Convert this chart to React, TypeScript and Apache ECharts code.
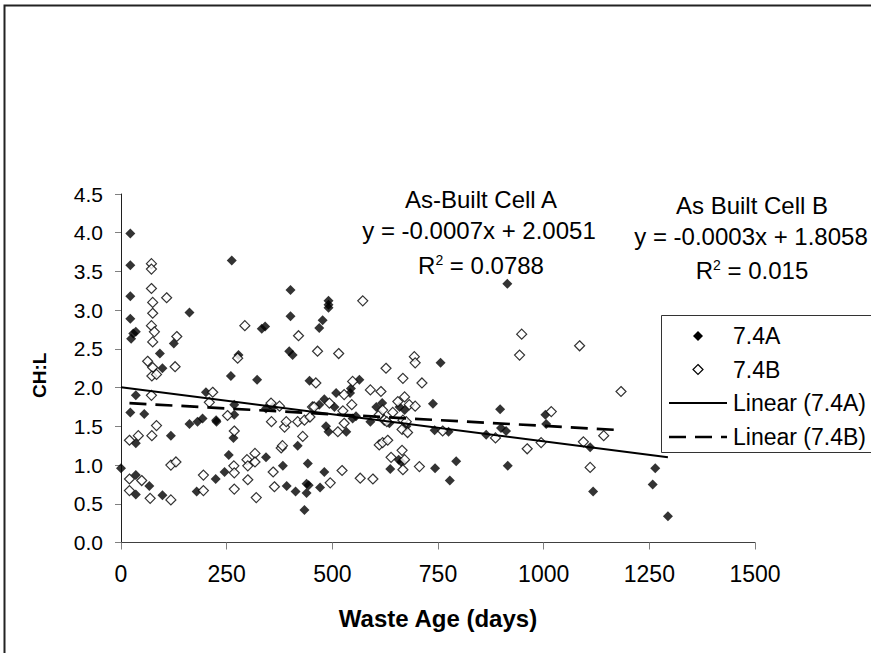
import React, { useEffect, useRef } from "react";
import * as echarts from "echarts";

const FONT = "'Liberation Sans', Arial, sans-serif";

// 7.4A (filled diamonds): [waste age (days), CH:L]
const cellA: number[][] = [
  [0, 0.96], [22, 3.99], [22, 3.58], [22, 3.18], [22, 2.89], [29, 2.7], [35, 2.72], [24, 2.63],
  [22, 1.68], [35, 1.9], [35, 1.28], [35, 0.87], [35, 0.62], [55, 1.66], [67, 0.73], [92, 2.44],
  [98, 2.25], [98, 0.61], [118, 1.38], [125, 2.57], [162, 2.97], [162, 1.53], [179, 0.66], [181, 1.56],
  [193, 1.6], [201, 1.94], [224, 0.82], [225, 1.58], [226, 1.56], [245, 0.91], [255, 1.13], [260, 2.15],
  [262, 3.64], [266, 1.35], [268, 1.78], [268, 1.65], [278, 2.42], [322, 2.1], [333, 2.76], [341, 2.79],
  [343, 1.73], [359, 1.75], [343, 1.1], [383, 0.99], [392, 0.73], [401, 3.26], [401, 2.92], [398, 2.47],
  [406, 2.42], [413, 0.66], [418, 1.25], [434, 0.42], [439, 0.76], [444, 0.74], [439, 0.64], [442, 1.02],
  [446, 2.09], [469, 2.77], [477, 2.87], [469, 1.78], [471, 0.71], [481, 1.85], [481, 0.91], [485, 1.5],
  [491, 1.43], [491, 3.12], [491, 3.07], [491, 3.03], [505, 1.75], [509, 1.93], [533, 1.43], [542, 1.93],
  [544, 1.99], [548, 1.6], [556, 1.63], [564, 2.1], [590, 1.56], [604, 1.75], [618, 1.8], [635, 1.54],
  [637, 0.95], [657, 1.07], [663, 1.04], [659, 1.75], [671, 1.71], [675, 1.5], [738, 1.79], [742, 1.45],
  [743, 0.96], [756, 2.32], [775, 1.43], [778, 0.8], [793, 1.05], [864, 1.39], [897, 1.72], [899, 1.48],
  [911, 1.44], [914, 3.34], [915, 0.99], [1004, 1.65], [1006, 1.53], [1110, 1.23], [1117, 0.66],
  [1258, 0.75], [1264, 0.96], [1294, 0.34],
];

// 7.4B (hollow diamonds)
const cellB: number[][] = [
  [20, 1.32], [20, 0.82], [20, 0.67], [41, 1.38], [49, 0.8], [63, 2.34], [69, 0.57], [72, 3.6],
  [72, 3.53], [72, 3.28], [75, 3.1], [75, 2.96], [72, 2.8], [79, 2.72], [75, 2.59], [75, 2.26],
  [73, 2.15], [84, 2.17], [72, 1.9], [73, 1.38], [84, 1.51], [108, 3.16], [118, 1.0], [130, 1.04],
  [118, 0.55], [128, 2.27], [132, 2.66], [195, 0.87], [195, 0.67], [209, 1.81], [217, 1.94], [252, 1.64],
  [267, 0.99], [268, 0.9], [268, 1.44], [268, 0.69], [276, 2.38], [293, 2.8], [298, 1.07], [300, 0.99],
  [300, 0.81], [317, 1.15], [317, 1.04], [320, 0.58], [356, 1.56], [355, 1.8], [360, 0.91], [363, 0.72],
  [375, 1.76], [379, 1.22], [382, 1.25], [387, 1.49], [391, 1.56], [418, 1.56], [420, 2.67], [430, 1.37],
  [434, 1.58], [447, 1.62], [453, 1.75], [457, 1.75], [461, 2.06], [465, 2.47], [493, 1.8], [495, 0.77],
  [513, 1.43], [515, 2.44], [523, 0.93], [525, 1.7], [528, 1.91], [528, 1.54], [546, 1.78], [548, 2.08],
  [566, 0.83], [572, 3.12], [590, 1.97], [596, 0.82], [611, 1.65], [611, 1.26], [615, 1.95], [619, 1.71],
  [619, 1.29], [623, 1.58], [627, 2.25], [629, 1.56], [631, 1.32], [639, 1.1], [643, 1.68], [655, 1.82],
  [665, 1.46], [665, 1.19], [667, 2.12], [667, 1.58], [667, 0.94], [671, 1.88], [671, 1.07], [675, 1.56],
  [678, 1.42], [682, 1.78], [694, 2.4], [696, 2.32], [696, 1.76], [706, 0.98], [712, 2.06], [761, 1.44],
  [886, 1.35], [943, 2.42], [948, 2.69], [961, 1.21], [994, 1.29], [1018, 1.69], [1085, 2.54],
  [1094, 1.3], [1110, 0.97], [1142, 1.38], [1183, 1.95],
];

// Linear trend lines (from the chart's equations)
const slopeA = -0.0007;
const interceptA = 2.0051;
const r2A = "0.0788";
const slopeB = -0.0003;
const interceptB = 1.8058;
const r2B = "0.015";

const xTicks = { min: 0, max: 1500, interval: 250 };
const yTicks = { min: 0, max: 4.5, interval: 0.5 };

const legendNames = ["7.4A", "7.4B", "Linear (7.4A)", "Linear (7.4B)"];

function trend(data: number[][], m: number, b: number): number[][] {
  const xs = data.map((d) => d[0]);
  const lo = Math.min(...xs);
  const hi = Math.max(...xs);
  return [
    [lo, m * lo + b],
    [hi, m * hi + b],
  ];
}

export default function App() {
  const ref = useRef<HTMLDivElement>(null);

  useEffect(() => {
    const chart = echarts.init(ref.current!, null, { renderer: "svg" });
    const txt = (text: string, x: number, y: number, extra: any = {}) => ({
      type: "text",
      x,
      y,
      silent: true,
      style: {
        text,
        fontSize: 24,
        fontFamily: FONT,
        fill: "#000",
        align: "center",
        verticalAlign: "middle",
        rich: { sup: { fontSize: 14, fontFamily: FONT, verticalAlign: "top", fill: "#000" } },
        ...extra,
      },
    });

    // legend layout (drawn as graphics so the icons match the original)
    const lgX = 661;
    const lgY = 315;
    const rowY = [336, 369.5, 403, 437];
    const iconL = 669;
    const iconR = 727;
    const iconC = (iconL + iconR) / 2;
    const d = 5;
    const diamond = (cy: number, fill: string) => ({
      type: "polygon",
      silent: true,
      shape: { points: [[iconC, cy - d], [iconC + d, cy], [iconC, cy + d], [iconC - d, cy]] },
      style: { fill, stroke: "#000", lineWidth: fill === "#000" ? 0 : 1.2 },
    });
    const legendGraphics = [
      {
        type: "rect",
        silent: true,
        shape: { x: lgX + 0.5, y: lgY + 0.5, width: 240, height: 137 },
        style: { fill: "#fff", stroke: "#333", lineWidth: 1 },
      },
      diamond(rowY[0], "#000"),
      diamond(rowY[1], "#fff"),
      {
        type: "line",
        silent: true,
        shape: { x1: iconL, y1: rowY[2], x2: iconR, y2: rowY[2] },
        style: { stroke: "#000", lineWidth: 2 },
      },
      {
        type: "line",
        silent: true,
        shape: { x1: iconL, y1: rowY[3], x2: iconR, y2: rowY[3] },
        style: { stroke: "#000", lineWidth: 2.7, lineDash: [17, 9] },
      },
      ...legendNames.map((n, i) => txt(n, 733, rowY[i], { align: "left", fontSize: 23 })),
    ];

    chart.setOption({
      animation: false,
      backgroundColor: "#ffffff",
      grid: { left: 121, top: 194, width: 634, height: 348.5, containLabel: false },
      xAxis: {
        type: "value",
        min: xTicks.min,
        max: xTicks.max,
        interval: xTicks.interval,
        name: "Waste Age (days)",
        nameLocation: "middle",
        nameGap: 64,
        nameTextStyle: { fontFamily: FONT, fontSize: 24, fontWeight: "bold", color: "#000" },
        axisLine: { show: true, onZero: false, lineStyle: { color: "#404040", width: 1 } },
        axisTick: { show: true, length: 7, lineStyle: { color: "#808080" } },
        axisLabel: {
          fontFamily: FONT,
          fontSize: 23,
          color: "#000",
          margin: 20,
          formatter: (v: number) => String(v),
        },
        splitLine: { show: false },
      },
      yAxis: {
        type: "value",
        min: yTicks.min,
        max: yTicks.max,
        interval: yTicks.interval,
        name: "CH:L",
        nameLocation: "middle",
        nameGap: 72,
        nameRotate: 90,
        nameTextStyle: {
          fontFamily: FONT,
          fontSize: 19,
          fontWeight: "bold",
          color: "#000",
          padding: [0, 14, 0, 0],
        },
        axisLine: { show: true, onZero: false, lineStyle: { color: "#202020", width: 1 } },
        axisTick: { show: true, length: 6, lineStyle: { color: "#808080" } },
        axisLabel: {
          fontFamily: FONT,
          fontSize: 21,
          color: "#000",
          margin: 18,
          formatter: (v: number) => v.toFixed(1),
        },
        splitLine: { show: false },
      },
      series: [
        {
          name: legendNames[0],
          type: "scatter",
          data: cellA,
          symbol: "diamond",
          symbolSize: 10,
          itemStyle: { color: "#000" },
        },
        {
          name: legendNames[1],
          type: "scatter",
          data: cellB,
          symbol: "diamond",
          symbolSize: 10,
          itemStyle: { color: "#fff", borderColor: "#000", borderWidth: 1.2 },
        },
        {
          name: legendNames[2],
          type: "line",
          data: trend(cellA, slopeA, interceptA),
          symbol: "none",
          lineStyle: { color: "#000", width: 2 },
          itemStyle: { color: "#000" },
        },
        {
          name: legendNames[3],
          type: "line",
          data: trend(cellB, slopeB, interceptB),
          symbol: "none",
          lineStyle: { color: "#000", width: 2.7, type: [17, 9] },
          itemStyle: { color: "#000" },
        },
      ],
      graphic: [
        {
          type: "rect",
          silent: true,
          shape: { x: 4.5, y: 5.5, width: 900, height: 700 },
          style: { fill: "none", stroke: "#222", lineWidth: 2 },
        },
        txt("As-Built Cell A", 481, 199),
        txt(`y = ${slopeA.toFixed(4)}x + ${interceptA.toFixed(4)}`, 479, 230),
        txt(`R{sup|2} = ${r2A}`, 481, 265),
        txt("As Built Cell B", 752, 205),
        txt(`y = ${slopeB.toFixed(4)}x + ${interceptB.toFixed(4)}`, 751, 236),
        txt(`R{sup|2} = ${r2B}`, 752, 270),
        ...legendGraphics,
      ],
    });
    return () => chart.dispose();
  }, []);

  return (
    <div
      ref={ref}
      style={{ position: "fixed", left: 0, top: 0, width: 871, height: 653, background: "#fff" }}
    />
  );
}
